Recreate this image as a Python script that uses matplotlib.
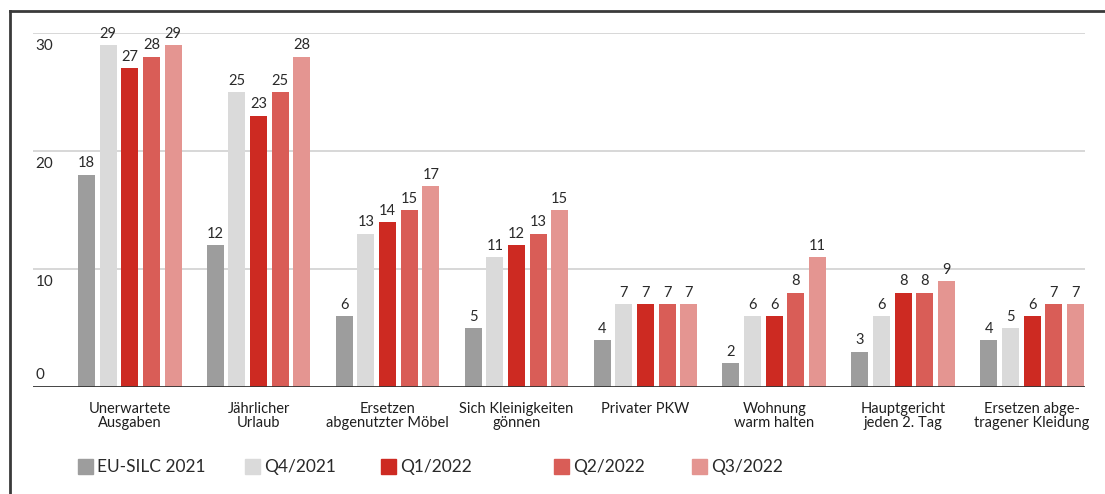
import matplotlib
matplotlib.use("Agg")
import matplotlib.pyplot as plt
from matplotlib.patches import Rectangle
from matplotlib.lines import Line2D
import numpy as np

plt.rcParams['font.family'] = ['Lato', 'DejaVu Sans']

# data
categories = ["Unerwartete\nAusgaben", "Jährlicher\nUrlaub", "Ersetzen\nabgenutzter Möbel",
              "Sich Kleinigkeiten\ngönnen", "Privater PKW", "Wohnung\nwarm halten",
              "Hauptgericht\njeden 2. Tag", "Ersetzen abge-\ntragener Kleidung"]
series = ["EU-SILC 2021", "Q4/2021", "Q1/2022", "Q2/2022", "Q3/2022"]
eu_silc = [18, 12, 6, 5, 4, 2, 3, 4]
q4_2021 = [29, 25, 13, 11, 7, 6, 6, 5]
q1_2022 = [27, 23, 14, 12, 7, 6, 8, 6]
q2_2022 = [28, 25, 15, 13, 7, 8, 8, 7]
q3_2022 = [29, 28, 17, 15, 7, 11, 9, 7]
yticks = [0, 10, 20, 30]

colors = ["#9d9d9d", "#dadada", "#cd2a22", "#d95d57", "#e49591"]
values = [eu_silc, q4_2021, q1_2022, q2_2022, q3_2022]

fig = plt.figure(figsize=(11.05, 4.94), dpi=100)
ax = fig.add_axes([33/1105, 1 - 387/494, (1085-33)/1105, (387-33)/494])

x = np.arange(len(categories))
pitch = 0.168
width = 0.132
for i, (vals, col) in enumerate(zip(values, colors)):
    pos = x + (i - 2) * pitch
    ax.bar(pos, vals, width=width, color=col, zorder=3)
    for p, v in zip(pos, vals):
        ax.text(p, v + 0.35, str(v), ha='center', va='bottom', fontsize=10.5,
                color='#2a2a2a', clip_on=False)

ax.set_xlim(-0.75, 7.41)
ax.set_ylim(0, 30)

# gridlines and y labels inside the plot
for t in yticks[1:]:
    ax.axhline(t, color='#d4d4d4', lw=1.3, zorder=1)
    ax.text(-0.73, t - 0.55, str(t), ha='left', va='top', fontsize=11, color='#2a2a2a')
ax.text(-0.73, 0.45, str(yticks[0]), ha='left', va='bottom', fontsize=11, color='#2a2a2a')
ax.axhline(0, color='#333333', lw=2, zorder=4)

ax.set_yticks([])
ax.set_xticks(x)
ax.set_xticklabels(categories, fontsize=10.5, color='#1e1e1e', linespacing=1.0)
ax.tick_params(axis='x', length=0, pad=11)
for s in ax.spines.values():
    s.set_visible(False)

# legend
leg_x = [78, 245, 381, 554, 692]
for lx, name, col in zip(leg_x, series, colors):
    fig.patches.append(Rectangle((lx/1105, 1 - 474/494), 15/1105, 15/494,
                                 transform=fig.transFigure, color=col))
    fig.text((lx + 19)/1105, 1 - 467/494, name, ha='left', va='center',
             fontsize=12.5, color='#2a2a2a')

# frame lines (left and top)
fig.add_artist(Line2D([10/1105, 10/1105], [0, 1 - 11/494], transform=fig.transFigure,
                      color='#3a3a3a', lw=2))
fig.add_artist(Line2D([10/1105, 1], [1 - 11/494, 1 - 11/494], transform=fig.transFigure,
                      color='#3a3a3a', lw=2))

fig.savefig("out.png", dpi=100)
